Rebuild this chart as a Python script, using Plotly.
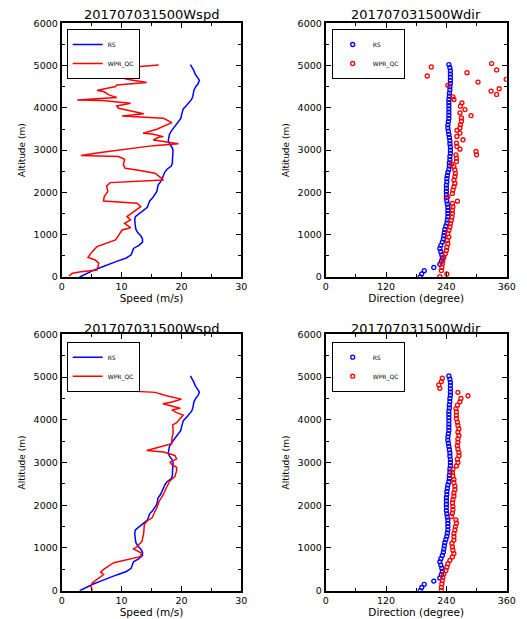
import plotly.graph_objects as go

# ---------------- data ----------------
title_spd = "201707031500Wspd"
title_dir = "201707031500Wdir"

rs_alt = [0, 75, 150, 225, 300, 375, 450, 525, 600, 675, 750, 825, 900, 975, 1050, 1125, 1200,
          1275, 1350, 1425, 1500, 1575, 1650, 1725, 1800, 1875, 1950, 2025, 2100, 2175, 2250,
          2325, 2400, 2475, 2550, 2625, 2700, 2775, 2850, 2925, 3000, 3075, 3150, 3225, 3300,
          3375, 3450, 3525, 3600, 3675, 3750, 3825, 3900, 3975, 4050, 4125, 4200, 4275, 4350,
          4425, 4500, 4575, 4650, 4725, 4800, 4875, 4950, 5025]
rs_spd = [3.0, 4.0, 5.2, 6.5, 7.8, 9.3, 10.8, 11.6, 11.8, 12.0, 12.9, 13.5, 13.5, 13.2, 12.7,
          12.4, 12.3, 12.2, 12.2, 12.3, 13.0, 13.8, 14.3, 14.5, 14.7, 15.2, 15.6, 15.9, 16.0,
          16.1, 16.5, 16.8, 17.0, 17.2, 17.6, 18.3, 18.5, 18.5, 18.5, 18.6, 18.6, 18.4, 18.0,
          17.8, 17.9, 18.0, 18.3, 18.7, 19.1, 19.6, 19.9, 20.0, 20.1, 20.3, 20.8, 21.3, 21.7,
          21.9, 22.0, 22.1, 22.4, 22.8, 23.0, 22.6, 22.3, 22.1, 21.8, 21.5]
rs_dir = [188, 191, 196, 215, 227, 230, 232, 231, 229, 227, 229, 232, 234, 235, 236, 237, 239,
          241, 242, 243, 243, 243, 243, 242, 241, 240, 240, 240, 240, 240, 241, 241, 242, 243,
          245, 246, 246, 247, 247, 248, 248, 248, 247, 247, 246, 245, 244, 243, 243, 244, 245,
          245, 245, 245, 245, 245, 245, 246, 246, 247, 247, 248, 248, 248, 248, 248, 247, 245]

# top row WPR_QC speed
wpr1_spd_alt = [24, 87, 126, 166, 323, 402, 465, 599, 718, 797, 875, 1112, 1167, 1270, 1349,
                1427, 1506, 1664, 1743, 1767, 1798, 1900, 2019, 2153, 2232, 2295, 2453, 2531,
                2571, 2650, 2784, 2847, 2871, 2942, 3044, 3107, 3150, 3202, 3241, 3304, 3320,
                3383, 3399, 3494, 3651, 3754, 3809, 3860, 3990, 4046, 4109, 4172, 4188, 4243,
                4306, 4385, 4409, 4464, 4503, 4543, 4598, 4677, 4740, 4755, 4882, 4897, 5016]
wpr1_spd = [1.2, 1.8, 3.2, 5.9, 6.2, 5.6, 4.4, 5.1, 5.9, 7.3, 9.0, 10.1, 11.5, 10.5, 11.5,
            10.9, 11.6, 13.2, 12.6, 10.3, 7.0, 7.1, 7.7, 7.5, 8.1, 17.0, 15.6, 12.6,
            10.6, 10.3, 10.5, 9.5, 3.2, 6.5, 11.7, 15.3, 19.5, 17.0, 15.3, 16.2, 17.0,
            15.1, 13.6, 15.9, 18.4, 17.0, 10.1, 13.7, 9.5, 9.2, 11.5, 6.8, 2.6, 9.2,
            7.9, 7.0, 5.9, 7.6, 9.0, 9.2, 14.2, 10.9, 9.5, 5.9, 5.6, 5.9, 16.2]

# top row WPR_QC direction
wpr1_dir_alt = [8, 71, 151, 230, 310, 389, 468, 548, 627, 706, 786, 865, 944, 1024, 1103, 1183,
                1262, 1341, 1421, 1500, 1579, 1659, 1738, 1794, 1897, 1976, 2056, 2135, 2214,
                2294, 2373, 2452, 2532, 2611, 2675, 2730, 2810, 2889, 2889, 2968, 3024, 3087,
                3167, 3246, 3325, 3405, 3468, 3524, 3603, 3683, 3762, 3817, 3881, 3960, 4040,
                4119, 4198, 4262, 4317, 4397, 4452, 4532, 4611, 4675, 4754, 4833, 4897, 4968, 5048]
wpr1_dir = [227, 241, 230, 231, 232, 233, 235, 238, 240, 241, 243, 242, 245, 243, 245, 247,
            248, 250, 251, 252, 252, 253, 252, 262, 243, 252, 253, 255, 257,
            255, 257, 258, 257, 255, 250, 260, 260, 259, 300, 299, 267, 261,
            260, 273, 261, 267, 261, 267, 268, 270, 270, 289, 267, 277, 268,
            271, 255, 253, 340, 329, 345, 243, 303, 359, 202, 281, 340, 210, 330]

# bottom row WPR_QC speed
wpr2_spd_alt = [0, 103, 182, 379, 434, 497, 655, 797, 876, 978, 1034, 1152, 1349, 1547, 1626,
                1705, 1800, 1942, 2100, 2257, 2415, 2573, 2668, 2810, 2889, 2952, 3007, 3086,
                3165, 3244, 3283, 3362, 3441, 3560, 3678, 3797, 3876, 3930, 4033, 4112, 4168,
                4230, 4270, 4325, 4373, 4420, 4483, 4562, 4641, 4720, 4799, 4981]
wpr2_spd = [5.1, 4.9, 5.1, 7.0, 6.5, 7.0, 8.7, 13.1, 13.4, 12.0, 12.6, 13.4, 13.7, 13.8, 14.2,
            15.1, 15.4, 15.9, 16.3, 17.0, 17.5, 18.1, 18.9, 19.2, 19.2, 18.4, 18.1, 19.2,
            18.9, 17.0, 14.2, 16.4, 18.4, 18.4, 18.6, 18.6, 18.5, 19.2, 19.8, 20.3, 19.2,
            18.4, 19.8, 18.4, 16.9, 18.6, 20.0, 17.5, 15.6, 5.4, 5.1, 4.5]

# bottom row WPR_QC direction
wpr2_dir_alt = [0, 79, 158, 237, 316, 395, 474, 552, 631, 710, 789, 868, 947, 1026, 1105, 1184,
                1263, 1342, 1421, 1500, 1579, 1657, 1736, 1815, 1894, 1973, 2052, 2131, 2210,
                2289, 2368, 2447, 2526, 2605, 2684, 2762, 2841, 2920, 2999, 3078, 3157, 3236,
                3315, 3394, 3473, 3552, 3631, 3710, 3789, 3867, 3946, 4025, 4104, 4183, 4262,
                4341, 4420, 4499, 4562, 4641, 4736, 4815, 4893, 4972]
wpr2_dir = [230, 230, 231, 232, 233, 235, 239, 241, 243, 247, 252, 255, 253, 252, 251, 255,
            255, 255, 257, 258, 260, 259, 250, 252, 253, 253, 252, 253, 255,
            255, 257, 257, 255, 255, 253, 252, 253, 260, 263, 262, 265, 265,
            263, 262, 263, 263, 265, 263, 265, 263, 262, 260, 260, 260, 259,
            262, 267, 269, 283, 263, 227, 225, 230, 232]

spd_ticks = [0, 10, 20, 30]
dir_ticks = [0, 120, 240, 360]
alt_ticks = [0, 1000, 2000, 3000, 4000, 5000, 6000]

# ---------------- figure ----------------
W, H = 527, 619
FONT = "DejaVu Sans"
BLUE = "#0000ff"
RED = "#ff0000"

fig = go.Figure()

def line_trace(x, y, name, color, xa, ya, leg):
    return go.Scatter(x=x, y=y, mode="lines", name=name, line=dict(color=color, width=1.5),
                      xaxis=xa, yaxis=ya, legend=leg)

def marker_trace(x, y, name, color, xa, ya, leg):
    return go.Scatter(x=x, y=y, mode="markers", name=name,
                      marker=dict(symbol="circle-open", size=4, color=color,
                                  line=dict(color=color, width=1.3)),
                      xaxis=xa, yaxis=ya, legend=leg)

fig.add_trace(line_trace(rs_spd, rs_alt, "RS", BLUE, "x", "y", "legend"))
fig.add_trace(line_trace(wpr1_spd, wpr1_spd_alt, "WPR_QC", RED, "x", "y", "legend"))
fig.add_trace(marker_trace(rs_dir, rs_alt, "RS", BLUE, "x2", "y2", "legend2"))
fig.add_trace(marker_trace(wpr1_dir, wpr1_dir_alt, "WPR_QC", RED, "x2", "y2", "legend2"))
fig.add_trace(line_trace(rs_spd, rs_alt, "RS", BLUE, "x3", "y3", "legend3"))
fig.add_trace(line_trace(wpr2_spd, wpr2_spd_alt, "WPR_QC", RED, "x3", "y3", "legend3"))
fig.add_trace(marker_trace(rs_dir, rs_alt, "RS", BLUE, "x4", "y4", "legend4"))
fig.add_trace(marker_trace(wpr2_dir, wpr2_dir_alt, "WPR_QC", RED, "x4", "y4", "legend4"))

def px_x(p):
    return p / W

def px_y(p):
    return 1 - p / H

dom_xl = [px_x(61.7), px_x(241.3)]
dom_xr = [px_x(325.7), px_x(506.7)]
dom_yt = [px_y(277.0), px_y(23.3)]
dom_yb = [px_y(590.7), px_y(334.3)]

def xaxis(dom, anchor, rng, ticks, minor, title):
    return dict(domain=dom, anchor=anchor, range=rng, tickvals=ticks, ticktext=[str(t) for t in ticks],
                automargin=False,
                showline=True, linewidth=2, linecolor="black", mirror="allticks",
                ticks="inside", ticklen=5, tickwidth=1, tickcolor="black",
                minor=dict(dtick=minor, ticks="inside", ticklen=3, tickwidth=1, tickcolor="black", showgrid=False),
                showgrid=False, zeroline=False,
                tickfont=dict(family=FONT, size=9.5, color="black"),
                title=dict(text=title, font=dict(family=FONT, size=10.5, color="black"), standoff=3),
                fixedrange=True)

def yaxis(dom, anchor):
    return dict(domain=dom, anchor=anchor, range=[0, 6000], tickvals=alt_ticks,
                ticktext=[str(t) for t in alt_ticks],
                automargin=False,
                showline=True, linewidth=2, linecolor="black", mirror="allticks",
                ticks="inside", ticklen=5, tickwidth=1, tickcolor="black",
                minor=dict(dtick=500, ticks="inside", ticklen=3, tickwidth=1, tickcolor="black", showgrid=False),
                showgrid=False, zeroline=False,
                tickfont=dict(family=FONT, size=9.5, color="black"),
                title=dict(text="Altitude (m)", font=dict(family=FONT, size=9, color="black"), standoff=6),
                fixedrange=True)

def legend(xp, yp):
    return dict(x=px_x(xp), y=px_y(yp), xanchor="left", yanchor="top",
                bgcolor="white", bordercolor="black", borderwidth=1,
                font=dict(family=FONT, size=6, color="black"),
                itemwidth=30, tracegroupgap=0)

fig.update_layout(
    width=W, height=H,
    margin=dict(l=0, r=0, t=0, b=0, autoexpand=False),
    paper_bgcolor="white", plot_bgcolor="white",
    showlegend=True,
    xaxis=xaxis(dom_xl, "y", [0, 30], spd_ticks, 5, "Speed (m/s)"),
    yaxis=yaxis(dom_yt, "x"),
    xaxis2=xaxis(dom_xr, "y2", [0, 360], dir_ticks, 60, "Direction (degree)"),
    yaxis2=yaxis(dom_yt, "x2"),
    xaxis3=xaxis(dom_xl, "y3", [0, 30], spd_ticks, 5, "Speed (m/s)"),
    yaxis3=yaxis(dom_yb, "x3"),
    xaxis4=xaxis(dom_xr, "y4", [0, 360], dir_ticks, 60, "Direction (degree)"),
    yaxis4=yaxis(dom_yb, "x4"),
    legend=legend(66.7, 29),
    legend2=legend(331.7, 29),
    legend3=legend(66.7, 341.7),
    legend4=legend(331.7, 341.7),
)

titles = [(title_spd, dom_xl, 15), (title_dir, dom_xr, 15), (title_spd, dom_xl, 328), (title_dir, dom_xr, 328)]
for txt, dom, ypx in titles:
    fig.add_annotation(text=txt, x=(dom[0] + dom[1]) / 2, y=px_y(ypx), xref="paper", yref="paper",
                       xanchor="center", yanchor="middle", showarrow=False,
                       font=dict(family=FONT, size=13, color="black"))

# remove the default 8px page margin so the figure fills the window exactly
fig.write_html("out.html", config={"displayModeBar": False},
               post_script="document.body.style.margin='0';document.body.style.overflow='hidden';")
